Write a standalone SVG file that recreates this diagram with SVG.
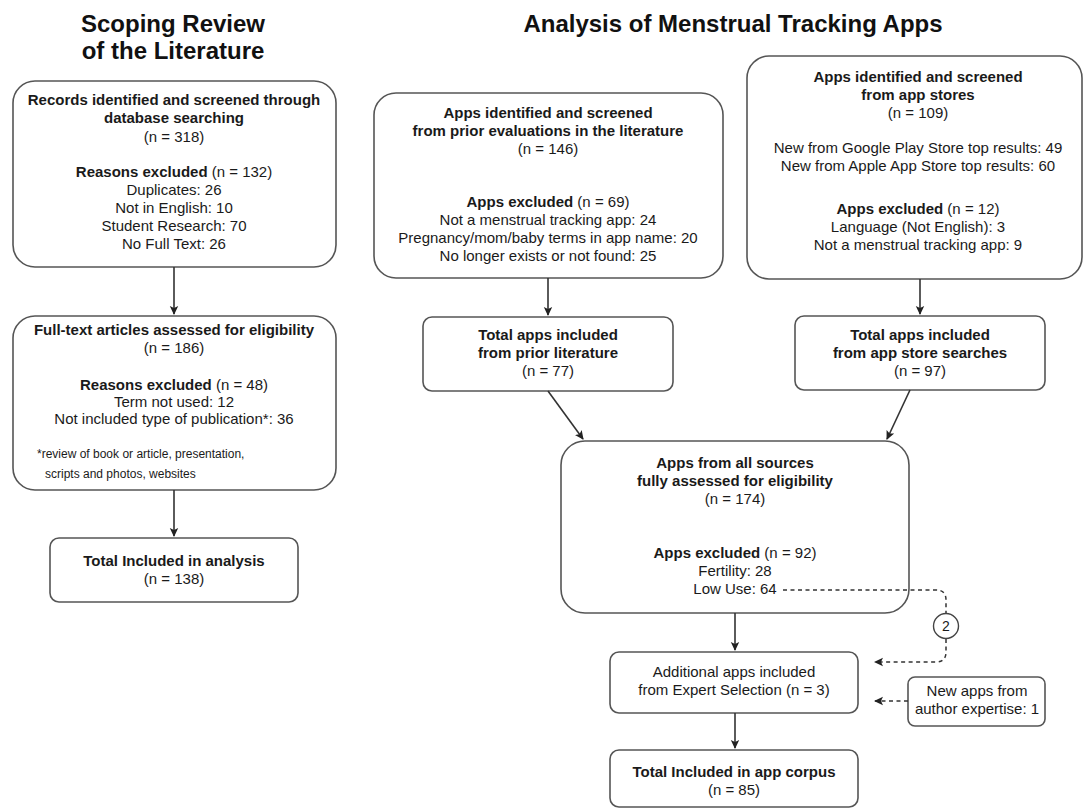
<svg xmlns="http://www.w3.org/2000/svg" width="1086" height="810" viewBox="0 0 1086 810">
<style>
text{font-family:"Liberation Sans",Arial,Helvetica,sans-serif;fill:#1a1a1a;text-anchor:middle;font-size:15px}
.title{font-size:24px;font-weight:bold;fill:#111}
.b{font-weight:bold}
.box{fill:#fff;stroke:#555;stroke-width:1.6}
.line{fill:none;stroke:#333;stroke-width:1.6}
.dash{fill:none;stroke:#333;stroke-width:1.5;stroke-dasharray:4 3.5}
.note{font-size:12px;text-anchor:start}
</style>
<defs>
<marker id="arr" markerWidth="10" markerHeight="10" refX="8" refY="5" orient="auto" markerUnits="userSpaceOnUse">
<path d="M0,0.8 L9,5 L0,9.2 L2,5 Z" fill="#222"/>
</marker>
</defs>
<rect width="1086" height="810" fill="#fff"/>
<g id="titles">
<text class="title" x="173" y="32">Scoping Review</text>
<text class="title" x="173" y="59">of the Literature</text>
<text class="title" x="733" y="32">Analysis of Menstrual Tracking Apps</text>
</g>
<g id="n_records">
<rect class="box" x="13" y="81" width="323" height="186" rx="22"/>
<text class="b" x="174" y="105">Records identified and screened through</text>
<text class="b" x="174" y="123">database searching</text>
<text x="174" y="142">(n = 318)</text>
<text x="174" y="177"><tspan class="b">Reasons excluded</tspan> (n = 132)</text>
<text x="174" y="195">Duplicates: 26</text>
<text x="174" y="213">Not in English: 10</text>
<text x="174" y="231">Student Research: 70</text>
<text x="174" y="249">No Full Text: 26</text>
</g>
<g id="n_fulltext">
<rect class="box" x="13" y="316" width="323" height="174" rx="22"/>
<text class="b" x="174" y="335">Full-text articles assessed for eligibility</text>
<text x="174" y="353">(n = 186)</text>
<text x="174" y="390"><tspan class="b">Reasons excluded</tspan> (n = 48)</text>
<text x="174" y="407">Term not used: 12</text>
<text x="174" y="424">Not included type of publication*: 36</text>
<text class="note" x="37" y="458">*review of book or article, presentation,</text>
<text class="note" x="45" y="478">scripts and photos, websites</text>
</g>
<g id="n_total_analysis">
<rect class="box" x="50" y="538" width="248" height="64" rx="9"/>
<text class="b" x="174" y="566">Total Included in analysis</text>
<text x="174" y="584">(n = 138)</text>
</g>
<g id="n_prior">
<rect class="box" x="374" y="93" width="349" height="185" rx="22"/>
<text class="b" x="548" y="118">Apps identified and screened</text>
<text class="b" x="548" y="136">from prior evaluations in the literature</text>
<text x="548" y="154">(n = 146)</text>
<text x="548" y="207"><tspan class="b">Apps excluded</tspan> (n = 69)</text>
<text x="548" y="225">Not a menstrual tracking app: 24</text>
<text x="548" y="243">Pregnancy/mom/baby terms in app name: 20</text>
<text x="548" y="261">No longer exists or not found: 25</text>
</g>
<g id="n_prior_total">
<rect class="box" x="423" y="317" width="250" height="74" rx="9"/>
<text class="b" x="548" y="340">Total apps included</text>
<text class="b" x="548" y="358">from prior literature</text>
<text x="548" y="376">(n = 77)</text>
</g>
<g id="n_stores">
<rect class="box" x="747" y="56" width="335" height="223" rx="22"/>
<text class="b" x="918" y="82">Apps identified and screened</text>
<text class="b" x="918" y="100">from app stores</text>
<text x="918" y="118">(n = 109)</text>
<text x="918" y="153">New from Google Play Store top results: 49</text>
<text x="918" y="171">New from Apple App Store top results: 60</text>
<text x="918" y="214"><tspan class="b">Apps excluded</tspan> (n = 12)</text>
<text x="918" y="232">Language (Not English): 3</text>
<text x="918" y="250">Not a menstrual tracking app: 9</text>
</g>
<g id="n_stores_total">
<rect class="box" x="795" y="316" width="250" height="74" rx="9"/>
<text class="b" x="920" y="340">Total apps included</text>
<text class="b" x="920" y="358">from app store searches</text>
<text x="920" y="376">(n = 97)</text>
</g>
<g id="n_all">
<rect class="box" x="561" y="441" width="348" height="172" rx="24"/>
<text class="b" x="735" y="468">Apps from all sources</text>
<text class="b" x="735" y="486">fully assessed for eligibility</text>
<text x="735" y="504">(n = 174)</text>
<text x="735" y="558"><tspan class="b">Apps excluded</tspan> (n = 92)</text>
<text x="735" y="576">Fertility: 28</text>
<text x="735" y="594">Low Use: 64</text>
</g>
<g id="n_expert">
<rect class="box" x="610" y="652" width="248" height="61" rx="9"/>
<text x="734" y="677">Additional apps included</text>
<text x="734" y="695">from Expert Selection (n = 3)</text>
</g>
<g id="n_author">
<rect class="box" x="908" y="677" width="137" height="49" rx="7"/>
<text x="977" y="696">New apps from</text>
<text x="977" y="714">author expertise: 1</text>
</g>
<g id="n_corpus">
<rect class="box" x="610" y="750" width="248" height="57" rx="9"/>
<text class="b" x="734" y="777">Total Included in app corpus</text>
<text x="734" y="795">(n = 85)</text>
</g>
<g id="connectors">
<line class="line" x1="174" y1="267" x2="174" y2="314" marker-end="url(#arr)"/>
<line class="line" x1="174" y1="490" x2="174" y2="536" marker-end="url(#arr)"/>
<line class="line" x1="548" y1="278" x2="548" y2="315" marker-end="url(#arr)"/>
<line class="line" x1="920" y1="279" x2="920" y2="314" marker-end="url(#arr)"/>
<line class="line" x1="548" y1="391" x2="583" y2="439" marker-end="url(#arr)"/>
<line class="line" x1="910" y1="390" x2="887" y2="439" marker-end="url(#arr)"/>
<line class="line" x1="735" y1="613" x2="735" y2="650" marker-end="url(#arr)"/>
<line class="line" x1="735" y1="713" x2="735" y2="748" marker-end="url(#arr)"/>
<path class="dash" d="M783,590 H936 Q946,590 946,600 V614"/>
<path class="dash" d="M946,639 V652 Q946,662 936,662 H875" marker-end="url(#arr)"/>
<path class="dash" d="M908,701 H875" marker-end="url(#arr)"/>
</g>
<g id="n_circle2">
<circle cx="946" cy="626" r="12.5" fill="#fff" stroke="#444" stroke-width="1.4"/>
<text x="946" y="631" style="font-size:14px">2</text>
</g>
</svg>
